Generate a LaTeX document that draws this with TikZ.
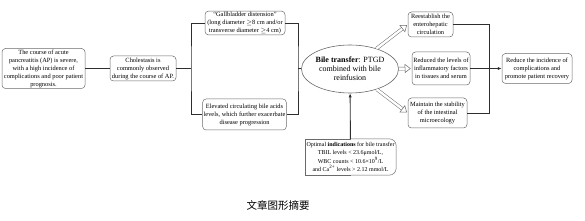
\documentclass[tikz,border=0pt]{standalone}
\usepackage{fontspec}
\setmainfont{Liberation Serif}
\newfontfamily\cjkfont{Noto Sans CJK SC}
\usetikzlibrary{arrows.meta,shapes.geometric,calc}
\definecolor{boxgray}{HTML}{6A6A6A}
\definecolor{linegray}{HTML}{2E2E2E}
\begin{document}
\begin{tikzpicture}[x=1pt,y=-1pt,
  box/.style={draw=boxgray, line width=0.5pt, rounded corners=3.5pt, align=center,
    inner sep=1pt, font=\fontsize{6.4}{8}\selectfont},
  conn/.style={draw=linegray, line width=0.9pt},
  tip/.style={-{Latex[length=4pt,width=3.2pt]}}]
\useasboundingbox (0,0) rectangle (585,221);

\node[box, minimum width=83pt, minimum height=40pt] (b1) at (43.5,68.5)
  {The course of acute\\ pancreatitis (AP) is severe,\\ with a high incidence of\\ complications and poor patient\\ prognosis.};
\node[box, minimum width=66pt, minimum height=25pt] (b2) at (143,68.5)
  {Cholestasis is\\ commonly observed\\ during the course of AP.};
\node[box, minimum width=80pt, minimum height=22pt] (b3) at (245,23)
  {“Gallbladder distension”\\ (long diameter \ensuremath{\geq}8 cm and/or\\ transverse diameter \ensuremath{\geq}4 cm)};
\node[box, minimum width=81pt, minimum height=31pt] (b4) at (244.5,114.5)
  {Elevated circulating bile acids\\ levels, which further exacerbate\\ disease progression};
\node[ellipse, draw=boxgray, line width=0.6pt, minimum width=74pt, minimum height=48pt,
  inner sep=0pt, align=center, font=\fontsize{8}{9}\selectfont] (ell) at (350,69)
  {\textbf{Bile transfer}: PTGD\\ combined with bile\\ reinfusion};
\node[box, minimum width=45pt, minimum height=25pt] (b5) at (430.5,24.5)
  {Reestablish the\\ enterohepatic\\ circulation};
\node[box, minimum width=58pt, minimum height=33pt] (b6) at (441,68.5)
  {Reduced the levels of\\ inflammatory factors\\ in tissues and serum};
\node[box, minimum width=59pt, minimum height=30pt] (b7) at (437.5,113)
  {Maintain the stability\\ of the intestinal\\ microecology};
\node[box, minimum width=70pt, minimum height=30pt] (b8) at (537,68.5)
  {Reduce the incidence of\\ complications and\\ promote patient recovery};
\node[align=center, inner sep=0pt, minimum width=91pt, minimum height=36pt,
  font=\fontsize{6}{8.2}\selectfont] (b9) at (350.5,157)
  {Optimal \textbf{indications} for bile transfer\\ TBIL levels < 23.6μmol/L,\\
   WBC counts < 10.6×10\textsuperscript{9}/L\\ and Ca\textsuperscript{2+} levels > 2.12 mmol/L};
\draw[draw=boxgray, line width=0.5pt, rounded corners=7pt] (b9.north) -| (b9.east) |- (b9.south);
\draw[draw=boxgray, line width=0.5pt] (b9.north) -| (b9.west) |- (b9.south);

\node[font=\cjkfont\fontsize{10.5}{12}\selectfont, inner sep=0pt] (cap) at (278,205) {文章图形摘要};

% connectors
\coordinate (lb) at (191,68.5);
\coordinate (rb) at (298,68.5);
\coordinate (cb) at (489,68.5);
\draw[conn] (b1) -- (b2);
\draw[conn] (b2) -- (lb);
\draw[conn] (b3.west) -| (lb) |- (b4.west);
\draw[conn] (b3.east) -| (rb) |- (b4.east);
\draw[conn] (rb) -- (ell);
\draw[conn, tip] (b9) -- (ell);
\draw[conn] (b5.east) -| (cb) |- (b7.east);
\draw[conn] (b6) -- (cb);
\draw[conn, tip] (cb) -- (b8);

\foreach \t in {b5,b6,b7}{
  \draw[draw=boxgray, line width=3.4pt, shorten >=6.5pt] (ell) -- (\t.west);
  \draw[white, line width=2.4pt, shorten >=6.5pt] (ell) -- (\t.west);
  \draw[white, line width=0.5pt, shorten >=1pt,
    -{Triangle[length=6pt, width=9pt, color=boxgray, fill=white]}] (ell) -- (\t.west);
}
\end{tikzpicture}
\end{document}
